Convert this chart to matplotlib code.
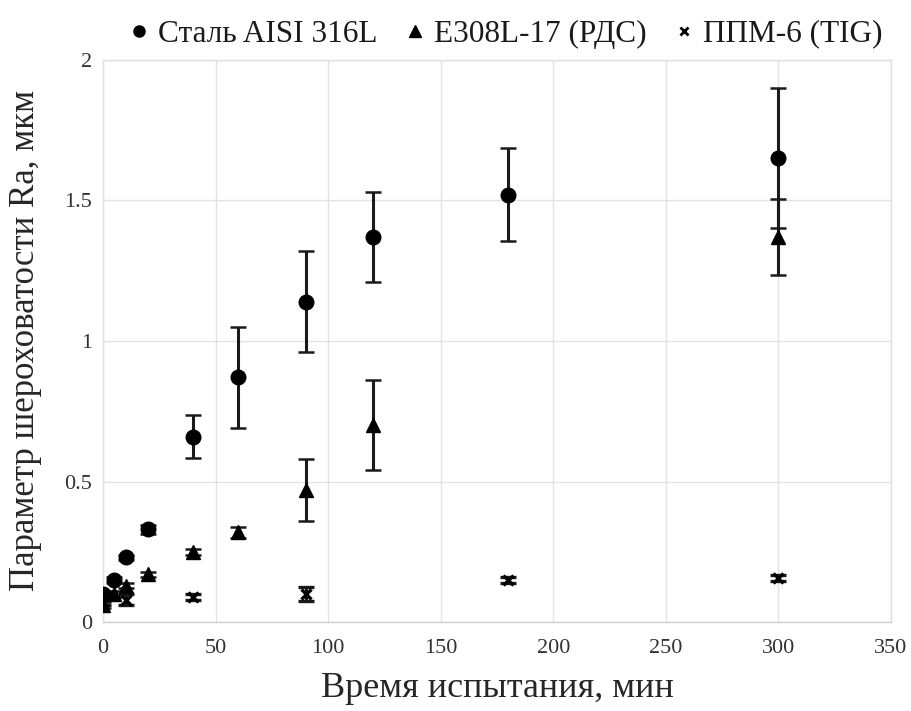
import matplotlib
matplotlib.use("Agg")
import matplotlib.pyplot as plt
from matplotlib.lines import Line2D

plt.rcParams['font.family'] = ['Liberation Serif', 'DejaVu Serif']

# Data
steel_x = [0, 5, 10, 20, 40, 60, 90, 120, 180, 300]
steel_y = [0.10, 0.15, 0.23, 0.33, 0.66, 0.87, 1.14, 1.37, 1.52, 1.65]
steel_err = [0.01, 0.01, 0.01, 0.015, 0.075, 0.18, 0.18, 0.16, 0.165, 0.25]

e308_x = [0, 5, 10, 20, 40, 60, 90, 120, 300]
e308_y = [0.06, 0.10, 0.13, 0.17, 0.25, 0.32, 0.47, 0.70, 1.37]
e308_err = [0.01, 0.01, 0.01, 0.01, 0.01, 0.02, 0.11, 0.16, 0.135]

ppm_x = [0, 10, 40, 90, 180, 300]
ppm_y = [0.07, 0.08, 0.09, 0.10, 0.15, 0.157]
ppm_err = [0.01, 0.02, 0.01, 0.025, 0.01, 0.01]

labels = ['Сталь AISI 316L', 'E308L-17 (РДС)', 'ППМ-6 (TIG)']
x_ticks = [0, 50, 100, 150, 200, 250, 300, 350]
y_ticks = [0, 0.5, 1, 1.5, 2]
y_tick_labels = ['0', '0.5', '1', '1.5', '2']

fig = plt.figure(figsize=(9.12, 7.11), dpi=100)
ax = fig.add_axes([0.113, 0.125, 0.864, 0.791])

ekw = dict(ls='none', color='black', ecolor='#1a1a1a', elinewidth=2.2, capsize=5.5, capthick=1.8)
ax.errorbar(steel_x, steel_y, yerr=steel_err, marker='o', ms=10.5, zorder=3, **ekw)
ax.errorbar(e308_x, e308_y, yerr=e308_err, marker='^', ms=10, zorder=3, **ekw)
ax.errorbar(ppm_x, ppm_y, yerr=ppm_err, marker='x', ms=7, mew=2.4, zorder=3, **ekw)

ax.set_xlim(0, 350)
ax.set_ylim(0, 2)
ax.set_xticks(x_ticks)
ax.set_yticks(y_ticks)
ax.set_yticklabels(y_tick_labels)
ax.grid(True, color='#e2e2e2', linewidth=1.0)
ax.set_axisbelow(True)
for s in ax.spines.values():
    s.set_color('#e0e0e0')
    s.set_linewidth(1.0)
ax.spines['bottom'].set_color('#d0d0d0')
ax.tick_params(length=0, labelsize=16, pad=12, colors='#333333')
ax.tick_params(axis='y', pad=8)

ax.set_xlabel('Время испытания, мин', fontsize=26, color='#262626', labelpad=10)
ax.set_ylabel('Параметр шероховатости Ra, мкм', fontsize=25, color='#262626', labelpad=16)

handles = [
    Line2D([], [], ls='none', marker='o', color='black', ms=8),
    Line2D([], [], ls='none', marker='^', color='black', ms=8),
    Line2D([], [], ls='none', marker='x', color='black', ms=6, mew=2),
]
fig.legend(handles, labels, loc='center', bbox_to_anchor=(0.555, 0.952), ncol=3,
           frameon=False, fontsize=22.5, handlelength=0.6, handletextpad=0.3,
           columnspacing=0.9, labelcolor='#1a1a1a')

fig.savefig('out.png', dpi=100)
